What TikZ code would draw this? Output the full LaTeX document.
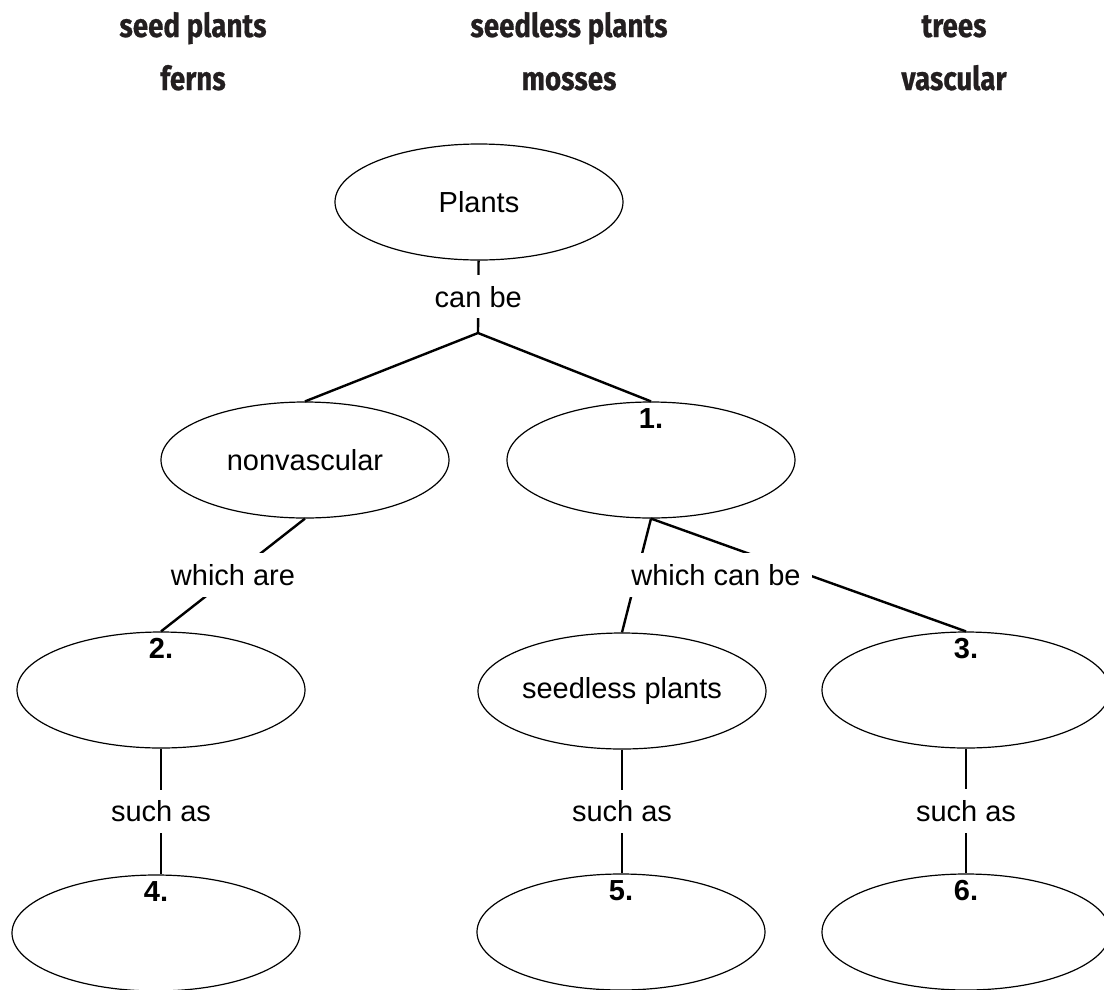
\documentclass[tikz,border=0pt]{standalone}
\usepackage{fontspec}
\setmainfont{Liberation Sans}
\newfontfamily\headfont[FakeStretch=0.84,FakeBold=0.6]{Fira Sans}
\usepackage{tikz}
\usetikzlibrary{shapes.geometric,positioning}

\definecolor{headgray}{RGB}{35,31,32}

\tikzset{
  concept/.style={draw, ellipse, line width=1.2pt, minimum width=288pt, minimum height=116pt, inner sep=0pt, font=\fontsize{29}{34}\selectfont},
  link/.style={line width=2.4pt},
  linktext/.style={fill=white, inner sep=11pt, font=\fontsize{29}{34}\selectfont},
  blank/.style={anchor=base, font=\fontsize{29}{34}\selectfont\bfseries},
  wordbank/.style={anchor=base, text=headgray, font=\headfont\bfseries\fontsize{33}{38}\selectfont}
}

\begin{document}
\begin{tikzpicture}[x=1pt,y=-1pt]
  \useasboundingbox (0,0) rectangle (1104,989);
  % word bank
  \node[wordbank] (w1) at (193,37) {seed plants};
  \node[wordbank] (w2) at (569,37) {seedless plants};
  \node[wordbank] (w3) at (954,37) {trees};
  \node[wordbank] (w4) at (193,90) {ferns};
  \node[wordbank] (w5) at (569,90) {mosses};
  \node[wordbank] (w6) at (954,90) {vascular};
  % concepts
  \node[concept] (plants) at (479,202) {Plants};
  \node[concept] (nonvasc) at (305,460) {nonvascular};
  \node[concept] (q1) at (651,460) {};
  \node[concept] (q2) at (161,690) {};
  \node[concept] (seedless) at (622,691) {seedless plants};
  \node[concept] (q3) at (966,690) {};
  \node[concept] (q4) at (156,933) {};
  \node[concept] (q5) at (621,932) {};
  \node[concept] (q6) at (966,932) {};
  \coordinate (fork) at (478,333);
  \foreach \q/\n in {q1/1,q2/2,q3/3,q4/4,q5/5,q6/6}
    \node[blank] at ([yshift=-27pt]\q.north) {\n.};
  \path[link]
  (plants) edge node [linktext] {can be} (fork)
  (fork) edge (nonvasc.north)
  edge (q1.north)
  (nonvasc.south) edge node [linktext] {which are} (q2.north)
  (q1.south) edge (seedless.north)
  edge (q3.north)
  (q2.south) edge node [linktext] {such as} (q2.south |- q4.north)
  (seedless.south) edge node [linktext] {such as} (seedless.south |- q5.north)
  (q3.south) edge node [linktext] {such as} (q6.north)
;
  \node[linktext] (canbe) at (716,575) {which can be};
\end{tikzpicture}
\end{document}
